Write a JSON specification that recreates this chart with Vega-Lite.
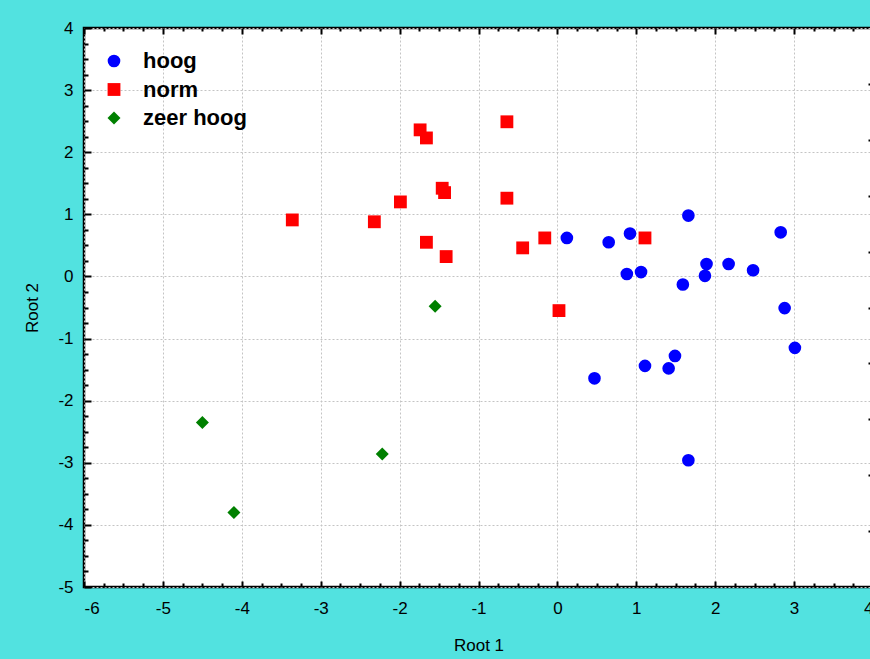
{
  "$schema": "https://vega.github.io/schema/vega-lite/v6.json",
  "autosize": {"type": "none"},
  "width": 789,
  "height": 559,
  "padding": {"left": 84, "top": 28, "right": 0, "bottom": 72},
  "background": "#52E2E0",
  "config": {
    "font": "Liberation Sans",
    "view": {"fill": "white", "stroke": "black", "strokeWidth": 2.5},
    "axis": {
      "domain": false,
      "tickColor": "black",
      "tickWidth": 2,
      "labelFont": "Liberation Sans",
      "labelFontSize": 17,
      "labelColor": "black",
      "labelExpr": "toString(datum.value)",
      "titleFont": "Liberation Sans",
      "titleFontSize": 17,
      "titleFontWeight": "normal",
      "titleColor": "black",
      "gridColor": "#c4c4c4",
      "gridDash": [2, 2],
      "gridWidth": 1
    },
    "legend": {
      "orient": "none",
      "legendX": 19,
      "legendY": 22,
      "title": null,
      "padding": 0,
      "labelFont": "Liberation Sans",
      "labelFontSize": 22,
      "labelFontWeight": "bold",
      "labelColor": "black",
      "labelOffset": 18,
      "rowPadding": 6.5,
      "symbolStrokeWidth": 0
    }
  },
  "data": {
    "values": [
      {"groep": "hoog", "r1": 0.12, "r2": 0.62},
      {"groep": "hoog", "r1": 0.65, "r2": 0.55},
      {"groep": "hoog", "r1": 0.92, "r2": 0.69},
      {"groep": "hoog", "r1": 1.66, "r2": 0.98},
      {"groep": "hoog", "r1": 0.88, "r2": 0.04},
      {"groep": "hoog", "r1": 1.06, "r2": 0.07},
      {"groep": "hoog", "r1": 1.59, "r2": -0.13},
      {"groep": "hoog", "r1": 1.89, "r2": 0.2},
      {"groep": "hoog", "r1": 1.87, "r2": 0.01},
      {"groep": "hoog", "r1": 2.17, "r2": 0.2},
      {"groep": "hoog", "r1": 2.48, "r2": 0.1},
      {"groep": "hoog", "r1": 2.83, "r2": 0.71},
      {"groep": "hoog", "r1": 2.88, "r2": -0.51},
      {"groep": "hoog", "r1": 3.01, "r2": -1.15},
      {"groep": "hoog", "r1": 0.47, "r2": -1.64},
      {"groep": "hoog", "r1": 1.11, "r2": -1.44},
      {"groep": "hoog", "r1": 1.49, "r2": -1.28},
      {"groep": "hoog", "r1": 1.41, "r2": -1.48},
      {"groep": "hoog", "r1": 1.66, "r2": -2.96},
      {"groep": "norm", "r1": -3.36, "r2": 0.91},
      {"groep": "norm", "r1": -2.32, "r2": 0.88},
      {"groep": "norm", "r1": -1.99, "r2": 1.2},
      {"groep": "norm", "r1": -1.74, "r2": 2.36},
      {"groep": "norm", "r1": -1.66, "r2": 2.23},
      {"groep": "norm", "r1": -1.46, "r2": 1.42},
      {"groep": "norm", "r1": -1.43, "r2": 1.35},
      {"groep": "norm", "r1": -1.66, "r2": 0.55},
      {"groep": "norm", "r1": -1.41, "r2": 0.32},
      {"groep": "norm", "r1": -0.64, "r2": 2.49},
      {"groep": "norm", "r1": -0.64, "r2": 1.26},
      {"groep": "norm", "r1": -0.44, "r2": 0.46},
      {"groep": "norm", "r1": -0.16, "r2": 0.62},
      {"groep": "norm", "r1": 1.11, "r2": 0.62},
      {"groep": "norm", "r1": 0.02, "r2": -0.55},
      {"groep": "zeer hoog", "r1": -4.5, "r2": -2.35},
      {"groep": "zeer hoog", "r1": -2.22, "r2": -2.86},
      {"groep": "zeer hoog", "r1": -4.1, "r2": -3.8},
      {"groep": "zeer hoog", "r1": -1.55, "r2": -0.48}
    ]
  },
  "resolve": {"axis": {"x": "independent", "y": "independent"}},
  "layer": [
    {
      "mark": {"type": "point", "filled": true, "opacity": 1, "strokeWidth": 0},
      "encoding": {
        "x": {
          "field": "r1", "type": "quantitative",
          "scale": {"domain": [-6, 4], "nice": false, "zero": false},
          "axis": {
            "orient": "bottom", "title": "Root 1",
            "values": [-6, -5, -4, -3, -2, -1, 0, 1, 2, 3, 4],
            "tickSize": -6, "labelPadding": 19, "titlePadding": 21,
            "grid": true
          }
        },
        "y": {
          "field": "r2", "type": "quantitative",
          "scale": {"domain": [-5, 4], "nice": false, "zero": false},
          "axis": {
            "orient": "left", "title": "Root 2",
            "values": [-5, -4, -3, -2, -1, 0, 1, 2, 3, 4],
            "tickSize": -7, "labelPadding": 18, "titlePadding": 16,
            "grid": true
          }
        },
        "color": {
          "field": "groep", "type": "nominal",
          "scale": {"domain": ["hoog", "norm", "zeer hoog"], "range": ["#0000FF", "#FF0000", "#008000"]}
        },
        "shape": {
          "field": "groep", "type": "nominal",
          "scale": {"domain": ["hoog", "norm", "zeer hoog"], "range": ["circle", "square", "diamond"]}
        },
        "size": {
          "field": "groep", "type": "nominal",
          "scale": {"domain": ["hoog", "norm", "zeer hoog"], "range": [160, 169, 320]}
        }
      }
    },
    {
      "mark": {"type": "point", "opacity": 0},
      "encoding": {
        "x": {
          "field": "r1", "type": "quantitative",
          "axis": {
            "orient": "bottom", "title": null, "labels": false, "grid": false, "tickSize": -4,
            "values": [-5.75, -5.5, -5.25, -4.75, -4.5, -4.25, -3.75, -3.5, -3.25, -2.75, -2.5, -2.25, -1.75, -1.5, -1.25, -0.75, -0.5, -0.25, 0.25, 0.5, 0.75, 1.25, 1.5, 1.75, 2.25, 2.5, 2.75, 3.25, 3.5, 3.75]
          }
        },
        "y": {
          "field": "r2", "type": "quantitative",
          "axis": {
            "orient": "left", "title": null, "labels": false, "grid": false, "tickSize": -4,
            "values": [-4.75, -4.5, -4.25, -3.75, -3.5, -3.25, -2.75, -2.5, -2.25, -1.75, -1.5, -1.25, -0.75, -0.5, -0.25, 0.25, 0.5, 0.75, 1.25, 1.5, 1.75, 2.25, 2.5, 2.75, 3.25, 3.5, 3.75]
          }
        }
      }
    },
    {
      "mark": {"type": "point", "opacity": 0},
      "encoding": {
        "x": {
          "field": "r1", "type": "quantitative",
          "axis": {
            "orient": "top", "title": null, "labels": false, "grid": false, "tickSize": -6,
            "values": [-6, -5, -4, -3, -2, -1, 0, 1, 2, 3, 4]
          }
        },
        "y": {
          "field": "r2", "type": "quantitative",
          "axis": {
            "orient": "right", "title": null, "labels": false, "grid": false, "tickSize": -5,
            "values": [3.1, 2.2, 1.3, 0.4, -0.5, -1.4, -2.3, -3.2, -4.1]
          }
        }
      }
    },
    {
      "mark": {"type": "point", "opacity": 0},
      "encoding": {
        "x": {
          "field": "r1", "type": "quantitative",
          "axis": {
            "orient": "top", "title": null, "labels": false, "grid": false, "tickSize": -3,
            "values": [-5.75, -5.5, -5.25, -4.75, -4.5, -4.25, -3.75, -3.5, -3.25, -2.75, -2.5, -2.25, -1.75, -1.5, -1.25, -0.75, -0.5, -0.25, 0.25, 0.5, 0.75, 1.25, 1.5, 1.75, 2.25, 2.5, 2.75, 3.25, 3.5, 3.75]
          }
        },
        "y": {"field": "r2", "type": "quantitative", "axis": null}
      }
    }
  ]
}
